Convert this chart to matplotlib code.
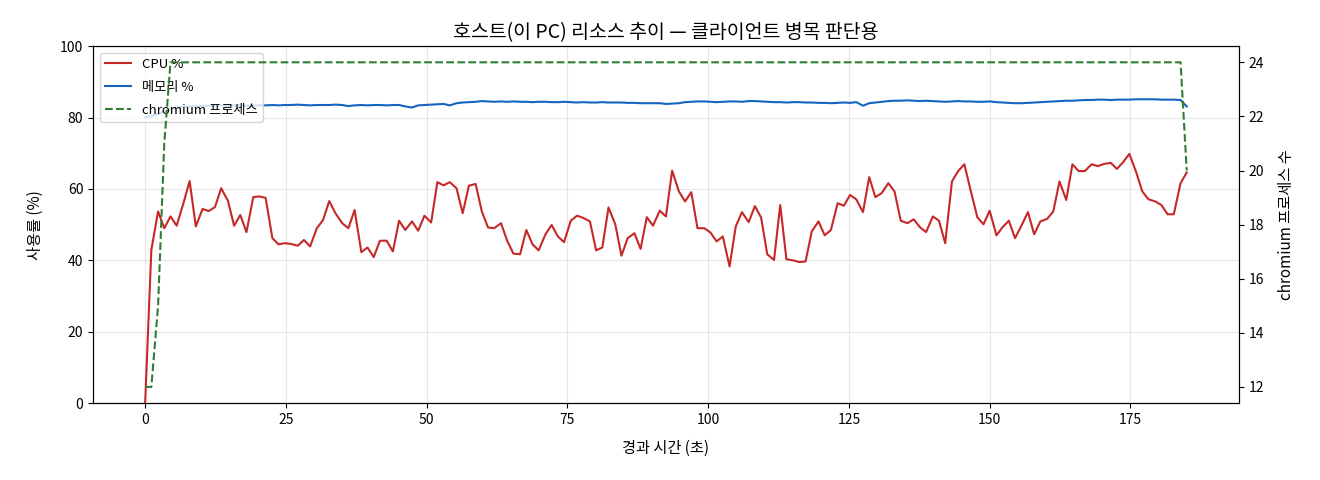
import matplotlib
matplotlib.use("Agg")
import matplotlib.pyplot as plt

plt.rcParams['font.family'] = ['Noto Sans CJK KR', 'DejaVu Sans']
plt.rcParams['axes.unicode_minus'] = False

# elapsed time of each sample (s) (~1.13 s per sample)
elapsed = [
    0.0, 1.1, 2.3, 3.4, 4.5, 5.6, 6.8, 7.9, 9.0, 10.2,
    11.3, 12.4, 13.5, 14.7, 15.8, 16.9, 18.0, 19.2, 20.3, 21.4,
    22.6, 23.7, 24.8, 25.9, 27.1, 28.2, 29.3, 30.5, 31.6, 32.7,
    33.8, 35.0, 36.1, 37.2, 38.4, 39.5, 40.6, 41.7, 42.9, 44.0,
    45.1, 46.2, 47.4, 48.5, 49.6, 50.8, 51.9, 53.0, 54.1, 55.3,
    56.4, 57.5, 58.7, 59.8, 60.9, 62.0, 63.2, 64.3, 65.4, 66.6,
    67.7, 68.8, 69.9, 71.1, 72.2, 73.3, 74.4, 75.6, 76.7, 77.8,
    79.0, 80.1, 81.2, 82.3, 83.5, 84.6, 85.7, 86.9, 88.0, 89.1,
    90.2, 91.4, 92.5, 93.6, 94.8, 95.9, 97.0, 98.1, 99.3, 100.4,
    101.5, 102.6, 103.8, 104.9, 106.0, 107.2, 108.3, 109.4, 110.5, 111.7,
    112.8, 113.9, 115.1, 116.2, 117.3, 118.4, 119.6, 120.7, 121.8, 123.0,
    124.1, 125.2, 126.3, 127.5, 128.6, 129.7, 130.8, 132.0, 133.1, 134.2,
    135.4, 136.5, 137.6, 138.7, 139.9, 141.0, 142.1, 143.3, 144.4, 145.5,
    146.6, 147.8, 148.9, 150.0, 151.2, 152.3, 153.4, 154.5, 155.7, 156.8,
    157.9, 159.0, 160.2, 161.3, 162.4, 163.6, 164.7, 165.8, 166.9, 168.1,
    169.2, 170.3, 171.5, 172.6, 173.7, 174.8, 176.0, 177.1, 178.2, 179.4,
    180.5, 181.6, 182.7, 183.9, 185.0,
]

# CPU usage (%)
cpu = [
    0.0, 42.9, 53.7, 49.0, 52.3, 49.7, 56.0, 62.2, 49.5, 54.4,
    53.8, 54.9, 60.2, 56.7, 49.7, 52.7, 47.9, 57.7, 57.9, 57.5,
    46.2, 44.5, 44.8, 44.6, 44.1, 45.7, 43.9, 49.0, 51.3, 56.6,
    53.2, 50.4, 49.0, 54.1, 42.3, 43.6, 40.9, 45.5, 45.5, 42.5,
    51.1, 48.5, 50.9, 48.3, 52.5, 50.6, 61.9, 61.0, 61.9, 60.2,
    53.2, 60.9, 61.4, 53.7, 49.2, 49.0, 50.4, 45.5, 41.9, 41.7,
    48.5, 44.5, 42.8, 47.3, 49.9, 46.7, 45.1, 51.1, 52.5, 51.9,
    50.9, 42.8, 43.6, 54.8, 50.1, 41.3, 46.2, 47.6, 43.2, 52.1,
    49.7, 53.9, 52.3, 65.1, 59.3, 56.5, 59.1, 49.0, 49.0, 47.8,
    45.3, 46.7, 38.3, 49.5, 53.5, 50.7, 55.2, 52.0, 41.7, 40.1,
    55.5, 40.3, 40.0, 39.5, 39.7, 48.1, 50.9, 47.0, 48.5, 56.0,
    55.3, 58.3, 57.1, 53.5, 63.3, 57.7, 58.8, 61.6, 59.3, 51.1,
    50.4, 51.5, 49.3, 47.9, 52.3, 51.1, 44.8, 62.1, 65.0, 66.9,
    59.7, 52.1, 50.1, 53.9, 47.0, 49.3, 51.1, 46.2, 49.9, 53.5,
    47.3, 50.9, 51.6, 53.7, 62.1, 56.9, 66.9, 65.0, 65.0, 66.9,
    66.4, 67.0, 67.3, 65.6, 67.5, 69.8, 64.8, 59.3, 57.1, 56.5,
    55.5, 52.9, 52.9, 61.6, 64.6,
]

# memory usage (%)
memory = [
    80.0, 80.4, 81.0, 81.7, 82.3, 82.8, 83.0, 83.1, 83.2, 83.2,
    83.3, 83.3, 83.4, 83.3, 83.4, 83.4, 83.3, 83.4, 83.4, 83.4,
    83.5, 83.4, 83.5, 83.5, 83.6, 83.5, 83.4, 83.5, 83.5, 83.5,
    83.6, 83.5, 83.2, 83.4, 83.5, 83.4, 83.5, 83.5, 83.4, 83.5,
    83.5, 83.1, 82.8, 83.4, 83.5, 83.6, 83.7, 83.8, 83.4, 84.0,
    84.2, 84.3, 84.4, 84.6, 84.5, 84.4, 84.5, 84.4, 84.5, 84.4,
    84.4, 84.3, 84.4, 84.4, 84.3, 84.3, 84.4, 84.3, 84.2, 84.3,
    84.2, 84.2, 84.3, 84.2, 84.2, 84.2, 84.1, 84.1, 84.0, 84.0,
    84.0, 84.0, 83.8, 83.9, 84.0, 84.3, 84.4, 84.5, 84.5, 84.4,
    84.3, 84.4, 84.5, 84.5, 84.4, 84.6, 84.6, 84.5, 84.4, 84.3,
    84.3, 84.2, 84.3, 84.3, 84.2, 84.2, 84.1, 84.1, 84.0, 84.1,
    84.2, 84.1, 84.3, 83.3, 84.0, 84.2, 84.4, 84.6, 84.7, 84.7,
    84.8, 84.7, 84.6, 84.7, 84.6, 84.5, 84.4, 84.5, 84.6, 84.5,
    84.5, 84.4, 84.4, 84.5, 84.3, 84.2, 84.1, 84.0, 84.0, 84.1,
    84.2, 84.3, 84.4, 84.5, 84.6, 84.7, 84.7, 84.8, 84.9, 84.9,
    85.0, 85.0, 84.9, 85.0, 85.0, 85.0, 85.1, 85.1, 85.1, 85.1,
    85.0, 85.0, 85.0, 84.9, 83.1,
]

# number of chromium processes
chromium = [12, 12, 15, 21] + [24] * 160 + [20]

fig = plt.figure(figsize=(13.2, 4.8), dpi=100)
ax1 = fig.add_axes([0.0705, 0.160, 0.868, 0.744])

l1, = ax1.plot(elapsed, cpu, color='#c62828', lw=1.5, label='CPU %')
l2, = ax1.plot(elapsed, memory, color='#1565c0', lw=1.5, label='메모리 %')
ax1.set_ylim(0, 100)
ax1.set_xlabel('경과 시간 (초)', fontsize=11, labelpad=9)
ax1.set_ylabel('사용률 (%)', fontsize=11, labelpad=12)
ax1.grid(True, alpha=0.3)

ax2 = ax1.twinx()
l3, = ax2.plot(elapsed, chromium, color='#2e7d32', lw=1.5, ls='--', label='chromium 프로세스')
ax2.set_ylabel('chromium 프로세스 수', fontsize=11, labelpad=10)

ax1.legend(handles=[l1, l2, l3], loc='upper left', fontsize=9.5, labelspacing=0.75)
ax1.set_title('호스트(이 PC) 리소스 추이 — 클라이언트 병목 판단용', fontsize=14)

fig.savefig('out.png', dpi=100)
